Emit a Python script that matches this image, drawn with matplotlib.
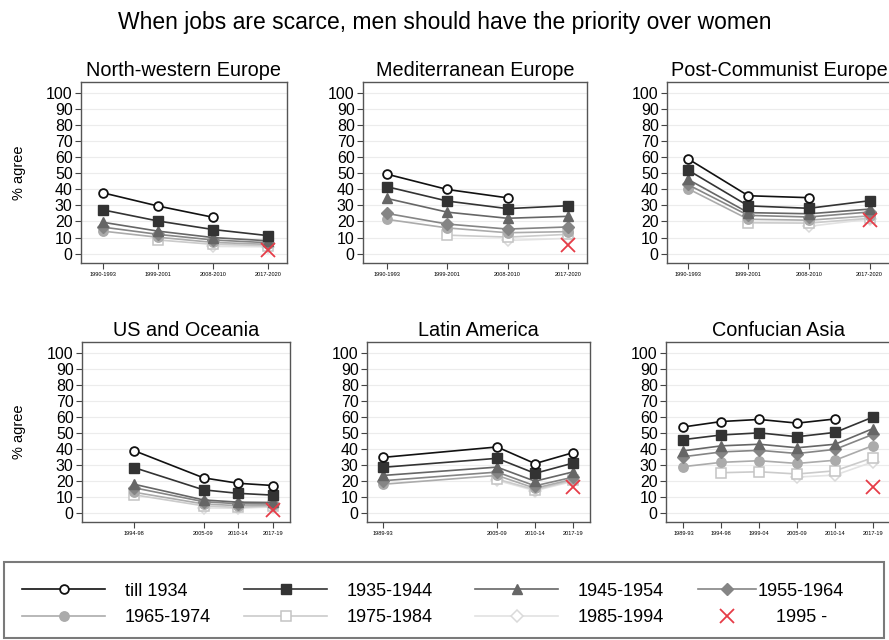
import numpy as np
import matplotlib
matplotlib.use("Agg")
import matplotlib.pyplot as plt
from matplotlib.patches import Rectangle

plt.rcParams["font.family"] = ["Liberation Sans", "DejaVu Sans"]

nan = np.nan

title = "When jobs are scarce, men should have the priority over women"
cohorts = ["till 1934", "1935-1944", "1945-1954", "1955-1964",
           "1965-1974", "1975-1984", "1985-1994", "1995 -"]

# EVS waves (top row)
evs_pos = [1, 2, 3, 4]
evs_labels = ["1990-1993", "1999-2001", "2008-2010", "2017-2020"]

# WVS waves (bottom row), positioned by wave number
us_pos = [3, 5, 6, 7]
us_labels = ["1994-98", "2005-09", "2010-14", "2017-19"]
latam_pos = [2, 5, 6, 7]
latam_labels = ["1989-93", "2005-09", "2010-14", "2017-19"]
asia_pos = [2, 3, 4, 5, 6, 7]
asia_labels = ["1989-93", "1994-98", "1999-04", "2005-09", "2010-14", "2017-19"]

# % agree by birth cohort (rows follow `cohorts`)
nw_europe = [
    [37.8, 29.6, 22.6, nan],
    [27.2, 20.3, 15.0, 11.2],
    [19.5, 14.0, 10.0, 8.0],
    [16.5, 12.0, 8.5, 6.8],
    [14.0, 10.2, 7.0, 5.8],
    [nan, 8.5, 5.8, 5.0],
    [nan, nan, 4.5, 4.3],
    [nan, nan, nan, 2.0],
]
med_europe = [
    [49.4, 39.9, 34.7, nan],
    [41.6, 32.7, 28.0, 29.8],
    [34.3, 25.8, 22.0, 23.2],
    [25.0, 18.4, 15.3, 16.6],
    [21.3, 16.0, 13.0, 13.7],
    [nan, 11.5, 10.3, 12.0],
    [nan, nan, 8.2, 9.5],
    [nan, nan, nan, 5.2],
]
postcom_europe = [
    [59.1, 36.0, 34.8, nan],
    [52.1, 29.7, 28.2, 32.9],
    [46.3, 25.5, 24.8, 27.7],
    [43.0, 23.8, 22.8, 25.9],
    [40.5, 21.4, 20.8, 23.5],
    [nan, 19.2, 19.0, 22.0],
    [nan, nan, 17.0, 21.5],
    [nan, nan, nan, 21.0],
]
us_oceania = [
    [38.8, 21.8, 18.4, 17.0],
    [28.2, 14.3, 12.1, 11.0],
    [17.8, 8.0, 6.6, 6.4],
    [15.6, 6.9, 5.6, 5.5],
    [12.8, 5.5, 4.4, 4.6],
    [11.2, 4.3, 3.3, 4.2],
    [nan, 3.0, 2.8, 3.6],
    [nan, nan, nan, 2.0],
]
latin_america = [
    [34.6, 41.1, 30.7, 37.5],
    [28.4, 34.0, 24.6, 31.0],
    [23.3, 28.5, 19.7, 25.5],
    [20.0, 25.4, 16.8, 22.2],
    [17.8, 23.3, 15.3, 21.0],
    [nan, 21.0, 14.4, 20.3],
    [nan, 20.2, 13.8, 19.6],
    [nan, nan, nan, 15.8],
]
confucian_asia = [
    [53.6, 57.0, 58.3, 56.0, 58.6, nan],
    [45.7, 48.6, 49.9, 47.5, 50.2, 59.8],
    [38.7, 41.8, 42.8, 40.6, 42.8, 52.6],
    [35.0, 38.0, 39.0, 37.0, 39.6, 49.0],
    [28.8, 31.5, 32.5, 30.8, 32.8, 42.0],
    [nan, 25.0, 25.6, 24.2, 26.2, 34.4],
    [nan, nan, nan, 22.3, 23.5, 31.8],
    [nan, nan, nan, nan, nan, 16.3],
]

styles = [
    dict(color="#111111", marker="o", mfc="white", mec="#111111", ms=6.3, mew=1.3, lw=1.2),
    dict(color="#333333", marker="s", mfc="#333333", mec="#333333", ms=6.8, lw=1.2),
    dict(color="#666666", marker="^", mfc="#666666", mec="#666666", ms=7.3, lw=1.2),
    dict(color="#858585", marker="D", mfc="#858585", mec="#858585", ms=6, lw=1.2),
    dict(color="#ababab", marker="o", mfc="#ababab", mec="#ababab", ms=6.8, lw=1.2),
    dict(color="#cbcbcb", marker="s", mfc="white", mec="#c4c4c4", ms=6.8, mew=1.1, lw=1.2),
    dict(color="#e2e2e2", marker="D", mfc="white", mec="#dadada", ms=6.3, mew=1.1, lw=1.2),
    dict(color="#e63c47", marker="x", ls="none", ms=9.5, mew=1.3),
]

W, H = 889, 640
fig = plt.figure(figsize=(W / 100, H / 100), dpi=100)


def rect(left, right, top, bottom):
    return [left / W, 1 - bottom / H, (right - left) / W, (bottom - top) / H]


panels = [
    ("North-western Europe", rect(81, 287, 82, 263), evs_pos, evs_labels, nw_europe, (0.6, 4.34)),
    ("Mediterranean Europe", rect(363, 587, 82, 263), evs_pos, evs_labels, med_europe, (0.6, 4.32)),
    ("Post-Communist Europe", rect(667, 892, 82, 263), evs_pos, evs_labels, postcom_europe, (0.66, 4.37)),
    ("US and Oceania", rect(82, 290, 342, 522), us_pos, us_labels, us_oceania, (1.5, 7.49)),
    ("Latin America", rect(367, 590, 342, 522), latam_pos, latam_labels, latin_america, (1.57, 7.45)),
    ("Confucian Asia", rect(666, 892, 342, 522), asia_pos, asia_labels, confucian_asia, (1.54, 7.5)),
]

handles = None
for name, r, pos, labels, series, xlim in panels:
    ax = fig.add_axes(r)
    lines = []
    for k, (vals, st) in enumerate(zip(series, styles)):
        ln, = ax.plot(pos, vals, zorder=10 - k if k < 7 else 12, **st)
        lines.append(ln)
    if handles is None:
        handles = lines
    ax.set_xlim(*xlim)
    ax.set_ylim(-5.8, 106.7)
    ax.set_yticks(range(0, 101, 10))
    ax.set_xticks(pos)
    ax.set_xticklabels(labels, fontsize=4.1)
    ax.tick_params(axis="y", labelsize=11.5, length=4, width=0.8, color="#444444", pad=2)
    ax.tick_params(axis="x", length=4, width=0.8, color="#444444", pad=2.5)
    ax.grid(axis="y", color="#ececec", lw=0.8)
    ax.set_axisbelow(True)
    for sp in ax.spines.values():
        sp.set_color("#555555")
        sp.set_linewidth(1.0)
    ax.set_title(name, fontsize=14.3, pad=4)

fig.text(19 / W, 1 - 172.5 / H, "% agree", rotation=90, ha="center", va="center", fontsize=10.5)
fig.text(19 / W, 1 - 432 / H, "% agree", rotation=90, ha="center", va="center", fontsize=10.5)
fig.text(445 / W, 1 - 22 / H, title, ha="center", va="center", fontsize=16.5)

# Legend: framed box with one key per cohort, two rows of four
fig.patches.append(Rectangle((4 / W, 2 / H), 880 / W, 76 / H, transform=fig.transFigure,
                             fill=False, edgecolor="#7a7a7a", lw=1.5))
row_y = [1 - 591 / H, 1 - 618 / H]
# (cohort index, row, key start x, key length, key-to-text gap)
legend_slots = [
    (0, 0, 22, 4.6, 1.1), (1, 0, 244, 4.6, 1.1), (2, 0, 475, 4.6, 1.1), (3, 0, 698, 3.2, 0.1),
    (4, 1, 22, 4.6, 1.1), (5, 1, 244, 4.6, 1.1), (6, 1, 475, 4.6, 1.1), (7, 1, 698, 3.2, 1.1),
]
for idx, row, x0, hl, pad in legend_slots:
    fig.legend([handles[idx]], [cohorts[idx]], loc="center left",
               bbox_to_anchor=(x0 / W, row_y[row]), frameon=False, fontsize=13,
               handlelength=hl, handletextpad=pad, borderpad=0, borderaxespad=0)

fig.savefig("out.png", dpi=100)
